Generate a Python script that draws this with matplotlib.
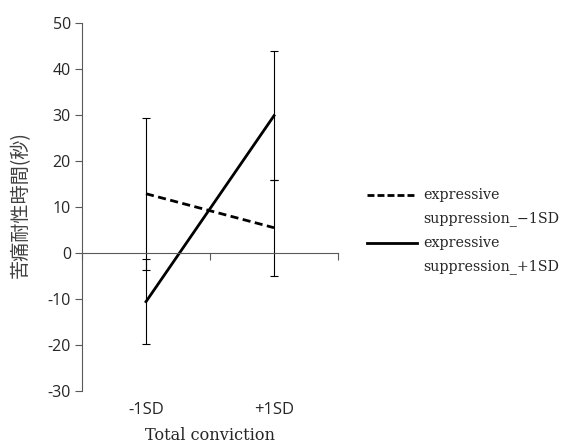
import matplotlib
matplotlib.use("Agg")
import matplotlib.pyplot as plt
import matplotlib.transforms as mtransforms
from matplotlib.legend_handler import HandlerLine2D
from matplotlib.lines import Line2D
import numpy as np

categories = ["-1SD", "+1SD"]
series_names = ["expressive\nsuppression_\u22121SD", "expressive\nsuppression_+1SD"]
low_supp = [12.9, 5.5]
low_supp_err = [16.5, 10.5]
high_supp = [-10.6, 29.9]
high_supp_err = [9.2, 14.1]
yticks = [-30, -20, -10, 0, 10, 20, 30, 40, 50]
ylabel = "苦痛耐性時間(秒)"
xlabel = "Total conviction"

axis_color = "#595959"
text_color = "#262626"

fig = plt.figure(figsize=(5.68, 4.43), dpi=100)
ax = fig.add_axes([0.1444, 0.118, 0.4507, 0.8292])

x = np.arange(len(categories))
ax.errorbar(x, low_supp, yerr=low_supp_err, color="black", lw=2.0,
            linestyle=(0, (2.9, 1.6)), ecolor="black", elinewidth=0.8,
            capsize=3.0, capthick=0.8, label=series_names[0])
ax.errorbar(x, high_supp, yerr=high_supp_err, color="black", lw=2.0,
            linestyle="-", ecolor="black", elinewidth=0.8,
            capsize=3.0, capthick=0.8, label=series_names[1])

ax.set_xlim(-0.5, 1.5)
ax.set_ylim(-30, 50)
ax.set_yticks(yticks)
ax.set_yticklabels([str(v) for v in yticks], fontfamily="Open Sans",
                   fontsize=11.5, color=text_color)
ax.tick_params(axis="y", direction="out", length=5, width=0.8, color=axis_color, pad=3)

ax.set_xticks([-0.5, 0.5, 1.5])
ax.set_xticklabels([])
ax.tick_params(axis="x", direction="out", length=5, width=0.8, color=axis_color)

for s in ["top", "right"]:
    ax.spines[s].set_visible(False)
ax.spines["left"].set_color(axis_color)
ax.spines["left"].set_linewidth(0.8)
ax.spines["bottom"].set_position(("data", 0))
ax.spines["bottom"].set_color(axis_color)
ax.spines["bottom"].set_linewidth(0.8)

trans = mtransforms.blended_transform_factory(ax.transData, ax.transAxes)
for xi, c in zip(x, categories):
    ax.text(xi, -0.053, c, transform=trans, ha="center", va="center",
            fontfamily="Open Sans", fontsize=12, color=text_color)

fig.text(210 / 568, 1 - 435 / 443, xlabel, ha="center", va="center",
         fontfamily="DejaVu Serif", fontsize=11.6, color=text_color)
fig.text(20 / 568, 1 - 205 / 443, ylabel, ha="center", va="center",
         rotation=90, fontfamily=["Noto Sans CJK JP", "DejaVu Sans"],
         fontsize=13.8, color="#404040")


class TopHandler(HandlerLine2D):
    def __init__(self, shift, **kw):
        super().__init__(**kw)
        self.shift = shift

    def create_artists(self, legend, orig_handle, xdescent, ydescent,
                       width, height, fontsize, trans):
        arts = super().create_artists(legend, orig_handle, xdescent, ydescent,
                                      width, height, fontsize, trans)
        for a in arts:
            if hasattr(a, "get_ydata"):
                a.set_ydata(np.asarray(a.get_ydata()) + self.shift)
        return arts


h1 = Line2D([], [], color="black", lw=2.0, linestyle=(0, (2.5, 1.1)))
h2 = Line2D([], [], color="black", lw=2.0, linestyle="-")
shift = 12.5 / 100 * 72
leg = fig.legend([h1, h2], series_names, loc="upper left",
                 bbox_to_anchor=(367 / 568, 1 - 188 / 443),
                 frameon=False, handlelength=3.5, handletextpad=0.45,
                 labelspacing=0.75, borderpad=0, borderaxespad=0,
                 prop={"family": "DejaVu Serif", "size": 10.3},
                 handler_map={h1: TopHandler(shift=shift, marker_pad=0),
                              h2: TopHandler(shift=shift, marker_pad=0)})
for t in leg.get_texts():
    t.set_linespacing(1.8)
    t.set_color(text_color)

fig.savefig("out.png", dpi=100)
